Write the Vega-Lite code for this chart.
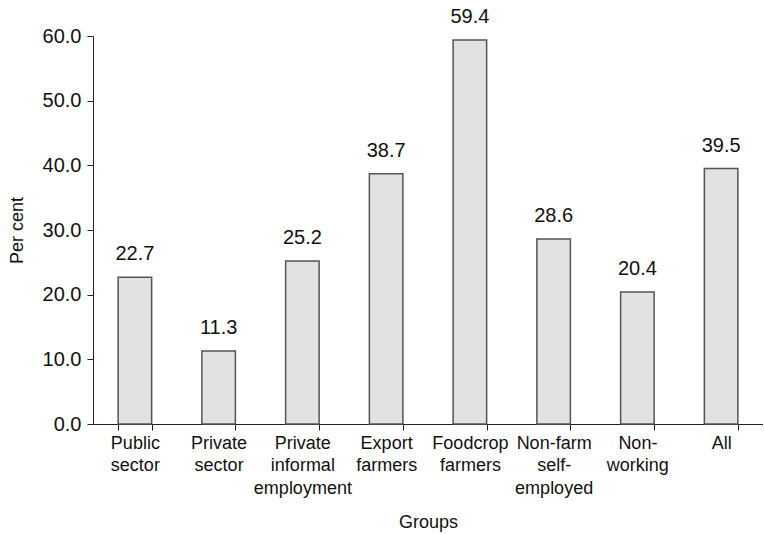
{
  "$schema": "https://vega.github.io/schema/vega-lite/v6.json",
  "autosize": "none",
  "width": 670,
  "height": 388,
  "padding": {"left": 93, "top": 36, "right": 0, "bottom": 110},
  "background": "white",
  "config": {"view": {"stroke": null}, "font": "Liberation Sans"},
  "data": {"values": [
    {"group": "Public|sector", "value": 22.7},
    {"group": "Private|sector", "value": 11.3},
    {"group": "Private|informal|employment", "value": 25.2},
    {"group": "Export|farmers", "value": 38.7},
    {"group": "Foodcrop|farmers", "value": 59.4},
    {"group": "Non-farm|self-|employed", "value": 28.6},
    {"group": "Non-|working", "value": 20.4},
    {"group": "All", "value": 39.5}
  ]},
  "encoding": {
    "x": {"field": "group", "type": "nominal", "sort": null,
      "scale": {"paddingInner": 0.6, "paddingOuter": 0.3},
      "axis": {"title": "Groups", "labelExpr": "split(datum.label, '|')", "labelAngle": 0,
        "labelFontSize": 18, "labelColor": "#111", "labelLineHeight": 22.5, "labelPadding": 4,
        "tickBand": "extent", "tickSize": 6, "tickColor": "#222", "domainColor": "#222",
        "titleFontSize": 18, "titleFontWeight": "normal", "titleColor": "#111", "titlePadding": 16}},
    "y": {"field": "value", "type": "quantitative",
      "scale": {"domain": [0, 60], "nice": false},
      "axis": {"title": "Per cent", "values": [0, 10, 20, 30, 40, 50, 60], "format": ".1f",
        "grid": false, "labelFontSize": 20, "labelColor": "#111", "tickSize": 6,
        "tickColor": "#222", "domainColor": "#222", "labelPadding": 6,
        "titleFontSize": 18, "titleFontWeight": "normal", "titleColor": "#111", "titlePadding": 16}}
  },
  "layer": [
    {"mark": {"type": "bar", "fill": "#e2e2e2", "stroke": "#555", "strokeWidth": 1.5}},
    {"mark": {"type": "text", "dy": -23, "fontSize": 20, "color": "#111"},
      "encoding": {"text": {"field": "value", "type": "quantitative", "format": ".1f"}}}
  ]
}
